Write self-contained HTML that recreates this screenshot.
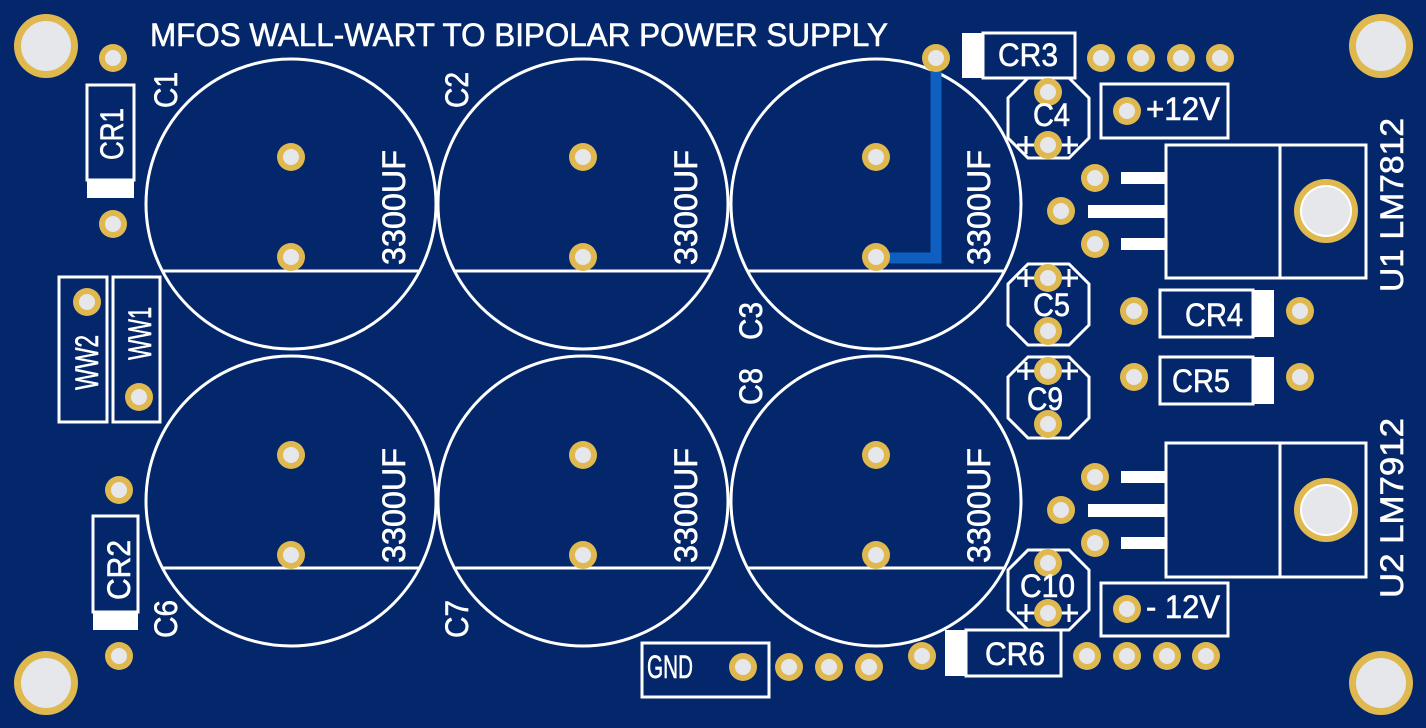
<!DOCTYPE html>
<html><head><meta charset="utf-8"><style>
html,body{margin:0;padding:0;background:#03276a;}
svg{display:block}
text{font-family:"Liberation Sans",sans-serif;fill:#fff;stroke:#fff;stroke-width:0.6;}
</style></head><body>
<svg width="1426" height="728" viewBox="0 0 1426 728" xmlns="http://www.w3.org/2000/svg">
<rect x="0" y="0" width="1426" height="728" fill="#03276a"/>
<defs>
<g id="pad"><circle r="14" fill="#dfb94f"/><circle r="8" fill="#e6e7ea"/></g>
<g id="mh"><circle r="32" fill="#dfb94f"/><circle r="25" fill="#e6e7ea"/></g>
</defs>
<g fill="none" stroke="#fff" stroke-width="3">
<circle cx="291" cy="204" r="145"/><circle cx="583" cy="204" r="145"/><circle cx="876" cy="204" r="145"/>
<circle cx="291" cy="501" r="145"/><circle cx="583" cy="501" r="145"/><circle cx="876" cy="501" r="145"/>
<path d="M163 271H419M455 271H711M748 271H1004M163 568H419M455 568H711M748 568H1004"/>
<rect x="87" y="85" width="47" height="95"/>
<rect x="59" y="277" width="48" height="145"/>
<rect x="113" y="277" width="47" height="145"/>
<rect x="93" y="516" width="45" height="96"/>
<rect x="983" y="33" width="92" height="45"/>
<rect x="1101" y="84" width="127" height="54"/>
<rect x="1166" y="145" width="200" height="133"/><path d="M1280 145V278"/>
<rect x="1166" y="443" width="200" height="134"/><path d="M1280 443V577"/>
<rect x="1160" y="290" width="93" height="47"/>
<rect x="1160" y="357" width="93" height="47"/>
<rect x="1101" y="583" width="127" height="53"/>
<rect x="966" y="630" width="95" height="46"/>
<rect x="642" y="643" width="127" height="54"/>
<path d="M1028 78H1069L1089 98V138L1069 158H1028L1008 138V98Z"/>
<path d="M1028 264H1069L1089 284V325L1069 345H1028L1008 325V284Z"/>
<path d="M1028 357H1069L1089 377V418L1069 438H1028L1008 418V377Z"/>
<path d="M1028 550H1069L1089 570V610L1069 630H1028L1008 610V570Z"/>
<path d="M1017 145h18M1026 136v18M1060 145h18M1069 136v18"/>
<path d="M1017 278h18M1026 269v18M1060 278h18M1069 269v18"/>
<path d="M1017 371h18M1026 362v18M1060 371h18M1069 362v18"/>
<path d="M1017 613h18M1026 604v18M1060 613h18M1069 604v18"/>
</g>
<g fill="#fff">
<rect x="87" y="180" width="47" height="18"/>
<rect x="93" y="612" width="45" height="18"/>
<rect x="962" y="33" width="21" height="45"/>
<rect x="1253" y="290" width="21" height="47"/>
<rect x="1253" y="357" width="21" height="47"/>
<rect x="945" y="630" width="21" height="46"/>
<rect x="1121" y="172" width="45" height="12"/><rect x="1088" y="205" width="78" height="13"/><rect x="1121" y="238" width="45" height="12"/>
<rect x="1121" y="471" width="45" height="12"/><rect x="1088" y="504" width="78" height="13"/><rect x="1121" y="537" width="45" height="12"/>
</g>
<path d="M936 58V258H876" fill="none" stroke="#0f5fc0" stroke-width="11"/>
<use href="#mh" x="46" y="46"/><use href="#mh" x="1381" y="46"/><use href="#mh" x="46" y="683"/><use href="#mh" x="1381" y="683"/>
<circle cx="1326" cy="211" r="32" fill="#dfb94f"/><circle cx="1326" cy="211" r="26" fill="#fff"/><circle cx="1326" cy="211" r="24" fill="#e6e7ea"/>
<circle cx="1326" cy="510" r="32" fill="#dfb94f"/><circle cx="1326" cy="510" r="26" fill="#fff"/><circle cx="1326" cy="510" r="24" fill="#e6e7ea"/>
<g>
<use href="#pad" x="291" y="157"/><use href="#pad" x="291" y="257"/>
<use href="#pad" x="583" y="157"/><use href="#pad" x="583" y="257"/>
<use href="#pad" x="876" y="157"/><use href="#pad" x="876" y="257"/>
<use href="#pad" x="291" y="455"/><use href="#pad" x="291" y="555"/>
<use href="#pad" x="583" y="455"/><use href="#pad" x="583" y="555"/>
<use href="#pad" x="876" y="455"/><use href="#pad" x="876" y="555"/>
<use href="#pad" x="113" y="58"/><use href="#pad" x="113" y="224"/>
<use href="#pad" x="87" y="302"/><use href="#pad" x="139" y="397"/>
<use href="#pad" x="119" y="490"/><use href="#pad" x="119" y="656"/>
<use href="#pad" x="936" y="58"/>
<use href="#pad" x="1101" y="58"/><use href="#pad" x="1141" y="58"/><use href="#pad" x="1181" y="58"/><use href="#pad" x="1220" y="58"/>
<use href="#pad" x="1048" y="92"/><use href="#pad" x="1048" y="145"/>
<use href="#pad" x="1127" y="111"/>
<use href="#pad" x="1095" y="178"/><use href="#pad" x="1061" y="211"/><use href="#pad" x="1095" y="244"/>
<use href="#pad" x="1048" y="278"/><use href="#pad" x="1048" y="331"/>
<use href="#pad" x="1134" y="311"/><use href="#pad" x="1300" y="311"/>
<use href="#pad" x="1134" y="377"/><use href="#pad" x="1300" y="377"/>
<use href="#pad" x="1048" y="371"/><use href="#pad" x="1048" y="424"/>
<use href="#pad" x="1095" y="477"/><use href="#pad" x="1061" y="510"/><use href="#pad" x="1095" y="543"/>
<use href="#pad" x="1048" y="563"/><use href="#pad" x="1048" y="613"/>
<use href="#pad" x="1127" y="609"/>
<use href="#pad" x="922" y="656"/>
<use href="#pad" x="1087" y="656"/><use href="#pad" x="1127" y="656"/><use href="#pad" x="1167" y="656"/><use href="#pad" x="1206" y="656"/>
<use href="#pad" x="743" y="667"/><use href="#pad" x="789" y="667"/><use href="#pad" x="829" y="667"/><use href="#pad" x="869" y="667"/>
</g>
<g font-size="32">
<text x="150" y="46" textLength="738" lengthAdjust="spacingAndGlyphs">MFOS WALL-WART TO BIPOLAR POWER SUPPLY</text>
<text x="998" y="66" textLength="60" lengthAdjust="spacingAndGlyphs">CR3</text>
<text x="1033" y="126" textLength="37" lengthAdjust="spacingAndGlyphs">C4</text>
<text x="1146" y="120" textLength="74" lengthAdjust="spacingAndGlyphs">+12V</text>
<text x="1033" y="316" textLength="37" lengthAdjust="spacingAndGlyphs">C5</text>
<text x="1185" y="326" textLength="58" lengthAdjust="spacingAndGlyphs">CR4</text>
<text x="1172" y="392" textLength="58" lengthAdjust="spacingAndGlyphs">CR5</text>
<text x="1027" y="410" textLength="36" lengthAdjust="spacingAndGlyphs">C9</text>
<text x="1020" y="597" textLength="55" lengthAdjust="spacingAndGlyphs">C10</text>
<text x="1146" y="618" textLength="74" lengthAdjust="spacingAndGlyphs">- 12V</text>
<text x="985" y="665" textLength="60" lengthAdjust="spacingAndGlyphs">CR6</text>
<text x="647" y="678" textLength="46" lengthAdjust="spacingAndGlyphs">GND</text>
<text transform="translate(177,108) rotate(-90)" textLength="36" lengthAdjust="spacingAndGlyphs">C1</text>
<text transform="translate(468,108) rotate(-90)" textLength="36" lengthAdjust="spacingAndGlyphs">C2</text>
<text transform="translate(762,340) rotate(-90)" textLength="38" lengthAdjust="spacingAndGlyphs">C3</text>
<text transform="translate(762,405) rotate(-90)" textLength="37" lengthAdjust="spacingAndGlyphs">C8</text>
<text transform="translate(177,638) rotate(-90)" textLength="38" lengthAdjust="spacingAndGlyphs">C6</text>
<text transform="translate(468,638) rotate(-90)" textLength="38" lengthAdjust="spacingAndGlyphs">C7</text>
<text transform="translate(123,160) rotate(-90)" textLength="52" lengthAdjust="spacingAndGlyphs">CR1</text>
<text transform="translate(98,390) rotate(-90)" textLength="55" lengthAdjust="spacingAndGlyphs">WW2</text>
<text transform="translate(151,360) rotate(-90)" textLength="53" lengthAdjust="spacingAndGlyphs">WW1</text>
<text transform="translate(130,600) rotate(-90)" textLength="60" lengthAdjust="spacingAndGlyphs">CR2</text>
<text transform="translate(405,265) rotate(-90)" textLength="115" lengthAdjust="spacingAndGlyphs">3300UF</text>
<text transform="translate(697,265) rotate(-90)" textLength="115" lengthAdjust="spacingAndGlyphs">3300UF</text>
<text transform="translate(990,265) rotate(-90)" textLength="115" lengthAdjust="spacingAndGlyphs">3300UF</text>
<text transform="translate(405,563) rotate(-90)" textLength="115" lengthAdjust="spacingAndGlyphs">3300UF</text>
<text transform="translate(697,563) rotate(-90)" textLength="115" lengthAdjust="spacingAndGlyphs">3300UF</text>
<text transform="translate(990,563) rotate(-90)" textLength="115" lengthAdjust="spacingAndGlyphs">3300UF</text>
<text transform="translate(1403,292) rotate(-90)" textLength="174" lengthAdjust="spacingAndGlyphs">U1 LM7812</text>
<text transform="translate(1403,598) rotate(-90)" textLength="180" lengthAdjust="spacingAndGlyphs">U2 LM7912</text>
</g>
</svg>
</body></html>
